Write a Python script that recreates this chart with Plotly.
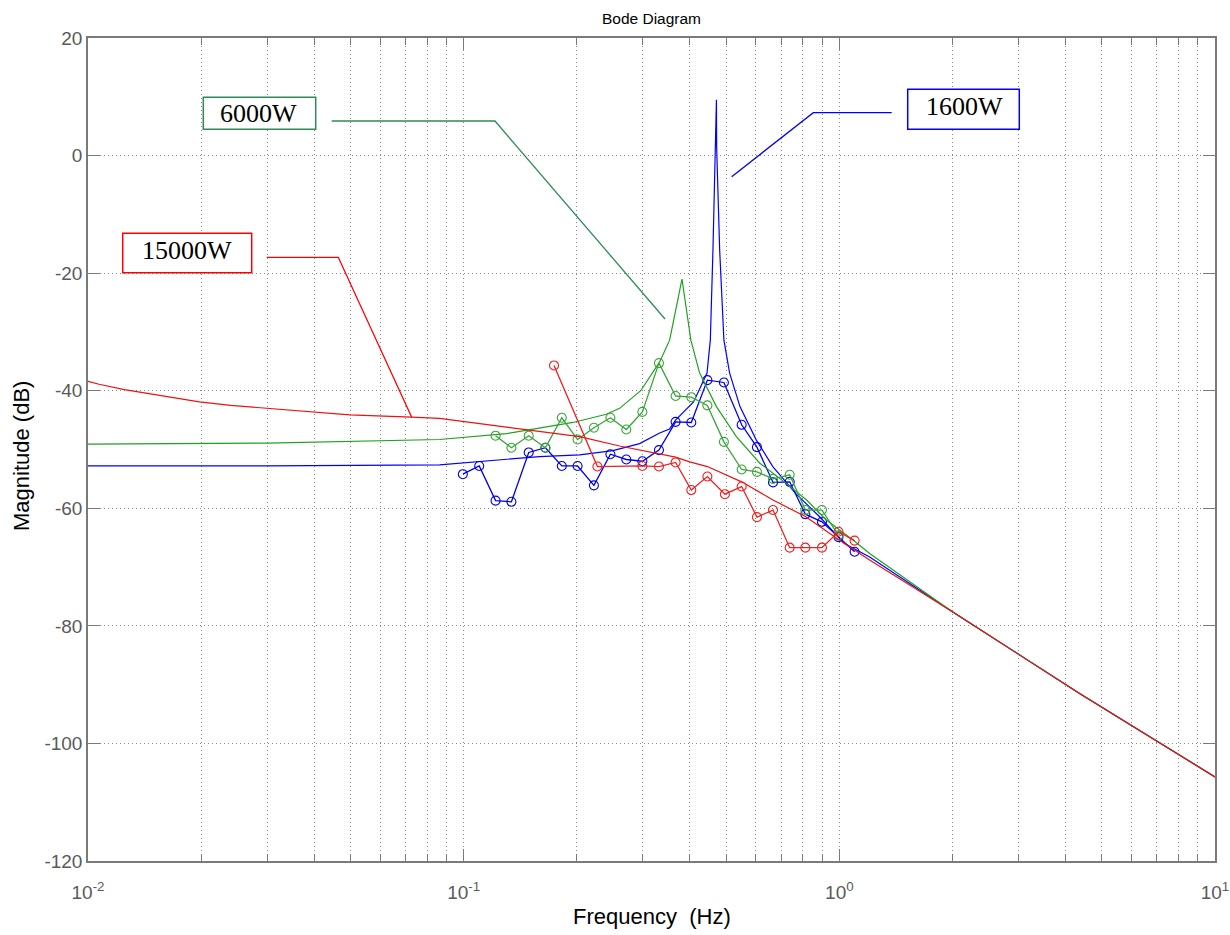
import plotly.graph_objects as go

# ---- measured frequency-response points (open circles) ----
f_meas_1600 = [0.0995, 0.110, 0.1216, 0.134, 0.149, 0.165, 0.1825, 0.201, 0.2222, 0.2458,
               0.271, 0.299, 0.331, 0.3666, 0.4036, 0.4454, 0.4929, 0.5495, 0.6035, 0.666,
               0.7376, 0.812, 0.899, 0.995, 1.098]
db_meas_1600 = [-54.2, -52.8, -58.7, -58.9, -50.5, -49.7, -52.8, -52.8, -56.1, -50.8,
                -51.7, -52.0, -50.1, -45.3, -45.4, -38.2, -38.6, -45.8, -49.6, -55.6,
                -55.5, -61.0, -62.3, -64.9, -67.4]

f_meas_6000 = [0.1216, 0.134, 0.149, 0.165, 0.1825, 0.201, 0.2222, 0.2458, 0.271, 0.299,
               0.331, 0.3666, 0.4036, 0.4454, 0.4929, 0.5495, 0.6035, 0.666, 0.7376, 0.812,
               0.899, 0.995]
db_meas_6000 = [-47.65, -49.7, -47.65, -49.7, -44.6, -48.3, -46.3, -44.6, -46.6, -43.6,
                -35.3, -40.9, -41.1, -42.5, -48.7, -53.4, -53.8, -55.0, -54.3, -60.3,
                -60.3, -64.6]

f_meas_15000 = [0.174, 0.227, 0.299, 0.331, 0.3666, 0.4036, 0.4454, 0.4958, 0.5495, 0.6035,
                0.666, 0.7376, 0.812, 0.899, 0.995, 1.098]
db_meas_15000 = [-35.7, -52.9, -52.8, -52.9, -52.2, -56.9, -54.6, -57.6, -56.3, -61.5,
                 -60.3, -66.7, -66.7, -66.7, -64.0, -65.5]

# ---- model Bode magnitude curves ----
f_model_1600 = [0.01, 0.03, 0.0863, 0.1593, 0.2036, 0.2496, 0.294, 0.3324, 0.3534, 0.3664,
                0.4093, 0.4444, 0.4535, 0.4609, 0.4708, 0.4714, 0.4802, 0.4929, 0.5105, 0.5439,
                0.6012, 0.6652, 0.7658, 0.8847, 1.0317, 1.204, 2.0, 4.36, 10.0]
db_model_1600 = [-52.8, -52.8, -52.6, -51.2, -50.9, -50.2, -49.0, -47.2, -46.5, -45.0,
                 -41.9, -37.0, -31.4, -16.0, 9.5, 1.5, -16.0, -31.4, -37.0, -42.7,
                 -48.4, -52.9, -57.5, -61.4, -66.0, -68.3, -77.6, -91.5, -105.7]

f_model_6000 = [0.01, 0.03, 0.0863, 0.130, 0.1954, 0.2398, 0.260, 0.296, 0.3324, 0.3534,
                0.3812, 0.4025, 0.4248, 0.4708, 0.532, 0.6135, 0.7228, 0.818, 0.9235, 1.087,
                1.204, 2.0, 4.36, 10.0]
db_model_6000 = [-49.1, -48.9, -48.3, -47.3, -45.4, -44.0, -43.0, -40.0, -35.1, -31.4,
                 -21.0, -31.4, -37.0, -42.7, -47.8, -52.3, -55.8, -58.6, -62.0, -65.4,
                 -67.7, -77.6, -91.5, -105.7]

f_model_15000 = [0.01, 0.0107, 0.0125, 0.0146, 0.0170, 0.0198, 0.0240, 0.0299, 0.0397, 0.0497,
                 0.0726, 0.0863, 0.130, 0.2036, 0.260, 0.294, 0.3666, 0.3996, 0.4454, 0.5495,
                 0.666, 0.812, 0.995, 1.204, 2.0, 4.36, 10.0]
db_model_15000 = [-38.4, -38.9, -39.8, -40.5, -41.3, -41.9, -42.5, -43.0, -43.7, -44.1,
                  -44.5, -44.7, -46.2, -47.8, -49.4, -50.1, -51.3, -52.1, -52.9, -55.5,
                  -58.6, -61.4, -65.3, -68.8, -77.6, -91.5, -105.7]

# ---- axis ticks ----
x_tick_vals = [0.01, 0.1, 1, 10]
x_tick_text = ["10<sup>-2</sup>", "10<sup>-1</sup>", "10<sup>0</sup>", "10<sup>1</sup>"]
x_minor_vals = [m * d for d in (0.01, 0.1, 1) for m in range(2, 10)]
y_tick_vals = [20, 0, -20, -40, -60, -80, -100, -120]
y_tick_text = ["20", "0", "-20", "-40", "-60", "-80", "-100", "-120"]

series = [
    ("1600W", "#0000ff", "#0000e6", f_model_1600, db_model_1600, f_meas_1600, db_meas_1600),
    ("6000W", "#1fa21f", "#3aa63a", f_model_6000, db_model_6000, f_meas_6000, db_meas_6000),
    ("15000W", "#ee1111", "#ee2020", f_model_15000, db_model_15000, f_meas_15000, db_meas_15000),
]

W, H = 1230, 935
L, R, T, B = 88, 15, 38, 74
PW, PH = W - L - R, H - T - B

fig = go.Figure()
for name, c_model, c_meas, fm, dm, fx, dx in series:
    fig.add_trace(go.Scatter(x=fm, y=dm, mode="lines", name=name + " model",
                             line=dict(color=c_model, width=1.2), showlegend=False))
    fig.add_trace(go.Scatter(x=fx, y=dx, mode="lines+markers", name=name + " measured",
                             line=dict(color=c_meas, width=1.3),
                             marker=dict(symbol="circle-open", size=9,
                                         line=dict(color=c_meas, width=1.1)),
                             showlegend=False))


def px_to_paper(px, py):
    return (px - L) / PW, (H - B - py) / PH


# callout boxes: label, colour, box corners (frame pixels), text centre, leader polyline
callouts = [
    ("6000W", "#2e8b57", (203.3, 97.3, 315.7, 129.3), (258.5, 114.0),
     [(331.7, 121.0), (495.0, 121.0), (665.0, 319.0)]),
    ("1600W", "#0000ff", (907.7, 89.3, 1019.3, 129.3), (964.0, 106.0),
     [(731.7, 176.7), (813.3, 112.7), (891.7, 112.7)]),
    ("15000W", "#ff0000", (122.7, 233.3, 251.7, 272.7), (186.7, 250.0),
     [(266.7, 257.3), (338.3, 257.3), (411.7, 417.3)]),
]

shapes = []
annotations = []
for label, col, (x0, y0, x1, y1), (tx, ty), leader in callouts:
    ax0, ay0 = px_to_paper(x0, y0)
    ax1, ay1 = px_to_paper(x1, y1)
    shapes.append(dict(type="rect", xref="paper", yref="paper", x0=ax0, y0=ay0, x1=ax1, y1=ay1,
                       line=dict(color=col, width=1.5), fillcolor="white", layer="above"))
    pts = [px_to_paper(px, py) for px, py in leader]
    path = "M " + " L ".join(f"{a},{b}" for a, b in pts)
    shapes.append(dict(type="path", xref="paper", yref="paper", path=path,
                       line=dict(color=col, width=1.3), layer="above"))
    tpx, tpy = px_to_paper(tx, ty)
    annotations.append(dict(x=tpx, y=tpy, xref="paper", yref="paper", text=label,
                            showarrow=False, xanchor="center", yanchor="middle",
                            font=dict(family="Liberation Serif, Times New Roman, serif",
                                      size=26, color="black")))

sans = "Liberation Sans, Arial, sans-serif"

# axis titles placed in frame pixels
xt_x, xt_y = px_to_paper(652, 917)
yt_x, yt_y = px_to_paper(22, 456)
annotations.append(dict(x=xt_x, y=xt_y, xref="paper", yref="paper",
                        text="Frequency\u00a0 (Hz)", showarrow=False,
                        xanchor="center", yanchor="middle",
                        font=dict(family=sans, size=22, color="black")))
annotations.append(dict(x=yt_x, y=yt_y, xref="paper", yref="paper",
                        text="Magnitude (dB)", showarrow=False, textangle=-90,
                        xanchor="center", yanchor="middle",
                        font=dict(family=sans, size=22, color="black")))

axis_gray = "#7a7a7a"
grid_gray = "#8a8a8a"
grid_dash = "1px,3px"
tick_font = dict(family=sans, size=19, color="#5a5a5a")

fig.update_layout(
    width=W, height=H,
    margin=dict(l=L, r=R, t=T, b=B, pad=0),
    paper_bgcolor="white", plot_bgcolor="white",
    title=dict(text="Bode Diagram", x=0.5, xref="paper", y=1 - 19 / H, yanchor="middle",
               font=dict(family=sans, size=15.5, color="black")),
    shapes=shapes,
    annotations=annotations,
    xaxis=dict(
        type="log", range=[-2, 1], automargin=False,
        tickmode="array", tickvals=x_tick_vals, ticktext=x_tick_text,
        ticks="inside", ticklen=12, tickwidth=1, tickcolor=axis_gray,
        showline=True, linecolor=axis_gray, linewidth=1.5, mirror="ticks",
        showgrid=True, gridcolor=grid_gray, griddash=grid_dash, gridwidth=1,
        minor=dict(tickmode="array", tickvals=x_minor_vals, ticks="inside", ticklen=7,
                   tickcolor=axis_gray, showgrid=True, gridcolor=grid_gray,
                   griddash=grid_dash, gridwidth=1),
        tickfont=tick_font, ticklabeloverflow="allow",
        ticklabelstandoff=13, zeroline=False,
    ),
    yaxis=dict(
        range=[-120, 20], automargin=False,
        tickmode="array", tickvals=y_tick_vals, ticktext=y_tick_text,
        ticks="inside", ticklen=12, tickwidth=1, tickcolor=axis_gray,
        showline=True, linecolor=axis_gray, linewidth=1.5, mirror="ticks",
        showgrid=True, gridcolor=grid_gray, griddash=grid_dash, gridwidth=1,
        tickfont=tick_font, zeroline=False,
    ),
)

fig.write_html("out.html")
